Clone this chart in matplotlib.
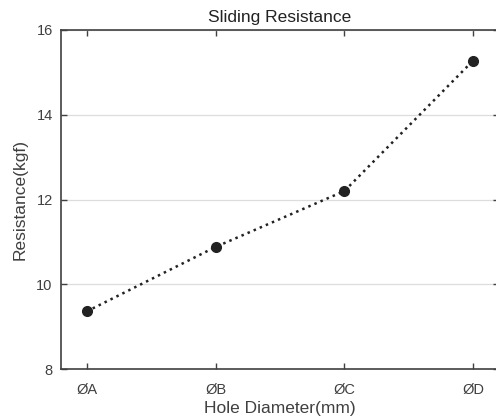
import matplotlib.pyplot as plt
import numpy as np

plt.rcParams['font.family'] = ['Liberation Sans', 'DejaVu Sans']

# sliding resistance per hole diameter
holes = ['ØA', 'ØB', 'ØC', 'ØD']
resistance = [9.36, 10.88, 12.2, 15.28]

x = np.arange(1, len(holes) + 1)

fig = plt.figure(figsize=(4.96, 4.2), dpi=100)
ax = fig.add_axes([0.123, 0.1214, 0.883, 0.8072])

ax.plot(x, resistance, linestyle=':', color='#222222', linewidth=1.8,
        marker='o', markersize=7, markerfacecolor='#222222', markeredgecolor='#222222')

ax.set_xlim(0.8, 4.2)
ax.set_ylim(8, 16)
ax.set_xticks(x)
ax.set_xticklabels(holes)
ax.set_yticks([8, 10, 12, 14, 16])
ax.yaxis.grid(True, color='#dddddd', linewidth=0.9)
ax.set_axisbelow(True)

txt = '#404040'
ax.tick_params(direction='in', length=4, width=1, colors='#404040', labelsize=10.5,
               top=True, right=True, labelcolor=txt)
ax.tick_params(axis='x', pad=10)
ax.tick_params(axis='y', pad=6)
for s in ax.spines.values():
    s.set_color('#404040')
    s.set_linewidth(1.2)

ax.set_title('Sliding Resistance', fontsize=12.5, color='#222222', pad=6)
ax.set_xlabel('Hole Diameter(mm)', fontsize=12.5, color=txt, labelpad=3)
ax.set_ylabel('Resistance(kgf)', fontsize=12.5, color=txt, labelpad=6)

fig.savefig('out.png', dpi=100)
